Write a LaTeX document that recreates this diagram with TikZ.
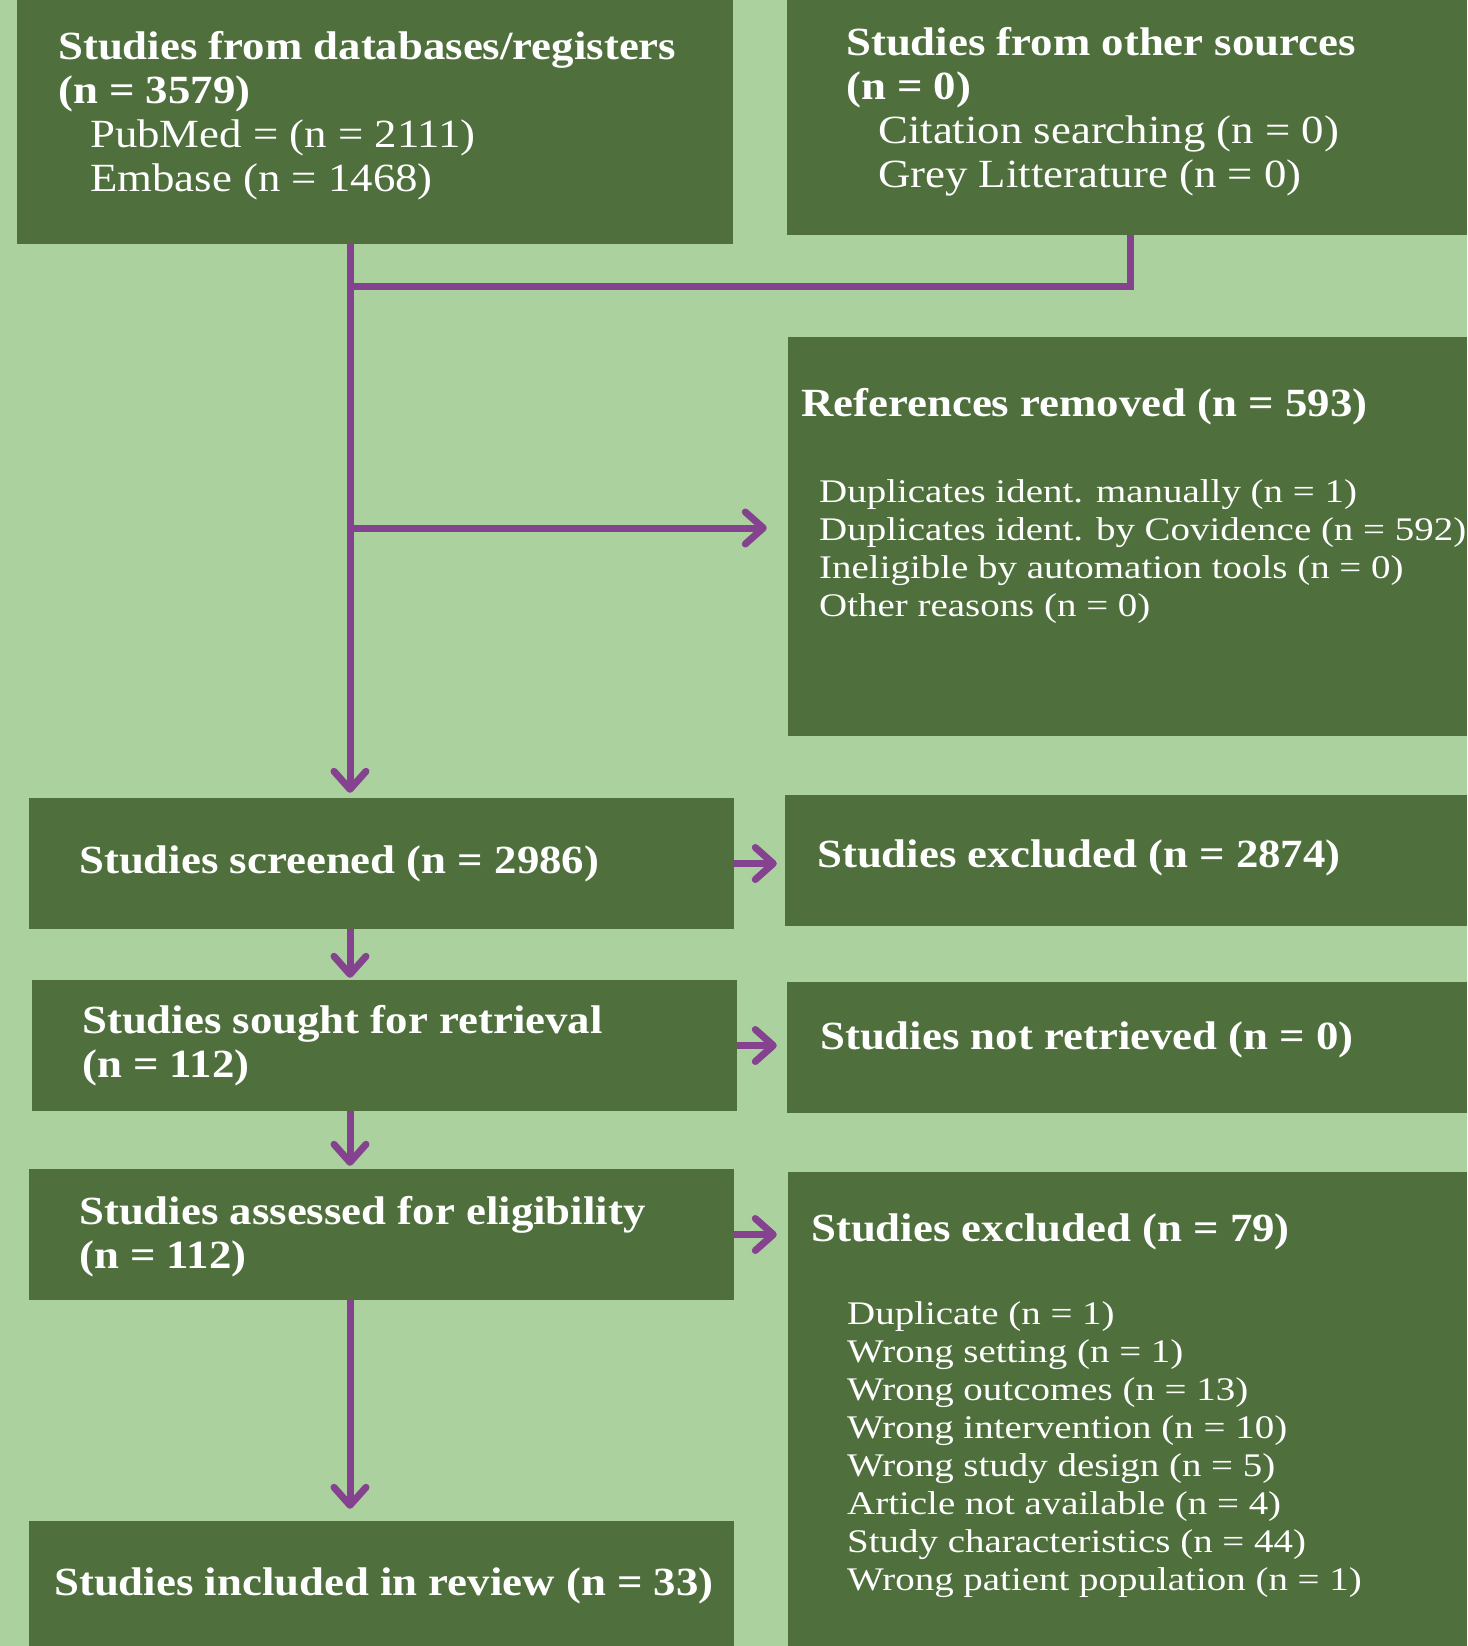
\documentclass[tikz,border=0pt]{standalone}
\usepackage{fontspec}
\setmainfont{Liberation Serif}
\newfontfamily\hfont[FakeStretch=1.12]{Liberation Serif}
\newfontfamily\sfontx[FakeStretch=1.12]{Liberation Serif}
\newfontfamily\ifont[FakeStretch=1.18]{Liberation Serif}
\usetikzlibrary{arrows.meta}
\definecolor{bgc}{HTML}{ABD29E}
\definecolor{boxc}{HTML}{4F6F3D}
\definecolor{purp}{HTML}{85428F}
\begin{document}
\begin{tikzpicture}[x=1pt,y=-1pt,
  box/.style={fill=boxc, draw=none, inner sep=0pt},
  head/.style={anchor=west, text=white, inner sep=0pt, align=left,
    font=\hfont\fontsize{40}{44}\selectfont\bfseries},
  sub/.style={anchor=west, text=white, inner sep=0pt, align=left,
    font=\sfontx\fontsize{40}{44}\selectfont},
  item/.style={anchor=west, text=white, inner sep=0pt, align=left,
    font=\ifont\fontsize{33}{38}\selectfont},
  ln/.style={draw=purp, line width=7pt},
  arr/.style={ln, -{Straight Barb[length=18pt,width=32pt,line cap=round,round]}}]
\useasboundingbox (0,0) rectangle (1467,1646);
\fill[bgc] (0,0) rectangle (1467,1646);
% boxes
\node[box, minimum width=716pt, minimum height=244pt] (A) at (375,122) {};
\node[box, minimum width=680pt, minimum height=235pt] (B) at (1127,117.5) {};
\node[box, minimum width=679pt, minimum height=399pt] (C) at (1127.5,536.5) {};
\node[box, minimum width=705pt, minimum height=131pt] (D) at (381.5,863.5) {};
\node[box, minimum width=682pt, minimum height=131pt] (E) at (1126,860.5) {};
\node[box, minimum width=705pt, minimum height=131pt] (F) at (384.5,1045.5) {};
\node[box, minimum width=680pt, minimum height=131pt] (G) at (1127,1047.5) {};
\node[box, minimum width=705pt, minimum height=131pt] (H) at (381.5,1234.5) {};
\node[box, minimum width=679pt, minimum height=474pt] (I) at (1127.5,1409) {};
\node[box, minimum width=705pt, minimum height=125pt] (J) at (381.5,1583.5) {};
% texts
\node[head] (tA1) at (58,72) {Studies from databases/registers\\(n = 3579)};
\node[sub] (tA2) at (90,160) {PubMed = (n = 2111)\\Embase (n = 1468)};
\node[head] (tB1) at (846,68) {Studies from other sources\\(n = 0)};
\node[sub] (tB2) at (878,156) {Citation searching (n = 0)\\Grey Litterature (n = 0)};
\node[head] (tC1) at (801,407) {References removed (n = 593)};
\node[item] (tC2) at (819,551.5) {Duplicates ident. manually (n = 1)\\Duplicates ident. by Covidence (n = 592)\\Ineligible by automation tools (n = 0)\\Other reasons (n = 0)};
\node[head] (tD) at (79,864) {Studies screened (n = 2986)};
\node[head] (tE) at (817,858) {Studies excluded (n = 2874)};
\node[head] (tF) at (82,1046) {Studies sought for retrieval\\(n = 112)};
\node[head] (tG) at (820,1040) {Studies not retrieved (n = 0)};
\node[head] (tH) at (79,1237) {Studies assessed for eligibility\\(n = 112)};
\node[head] (tI1) at (811,1232) {Studies excluded (n = 79)};
\node[item] (tI2) at (847,1450) {Duplicate (n = 1)\\Wrong setting (n = 1)\\Wrong outcomes (n = 13)\\Wrong intervention (n = 10)\\Wrong study design (n = 5)\\Article not available (n = 4)\\Study characteristics (n = 44)\\Wrong patient population (n = 1)};
\node[head] (tJ) at (54,1586) {Studies included in review (n = 33)};
% connectors
\coordinate (sp) at (350,0);
\coordinate (bj) at (1130,0);
\coordinate (m) at (350,286);
\coordinate (cb) at (350,528);
\draw[ln] (bj |- B.south) |- (m);
\draw[arr, shorten >=5pt] (sp |- A.south) -- (sp |- D.north);
\draw[arr, shorten >=21pt] (cb) -- (cb -| C.west);
\draw[arr, shorten >=8pt] (D.east) -- (D.east -| E.west);
\draw[arr, shorten >=10pt] (F.east) -- (F.east -| G.west);
\draw[arr, shorten >=11pt] (H.east) -- (H.east -| I.west);
\draw[arr, shorten >=2pt] (sp |- D.south) -- (sp |- F.north);
\draw[arr, shorten >=3pt] (sp |- F.south) -- (sp |- H.north);
\draw[arr, shorten >=12pt] (sp |- H.south) -- (sp |- J.north);
\end{tikzpicture}
\end{document}
